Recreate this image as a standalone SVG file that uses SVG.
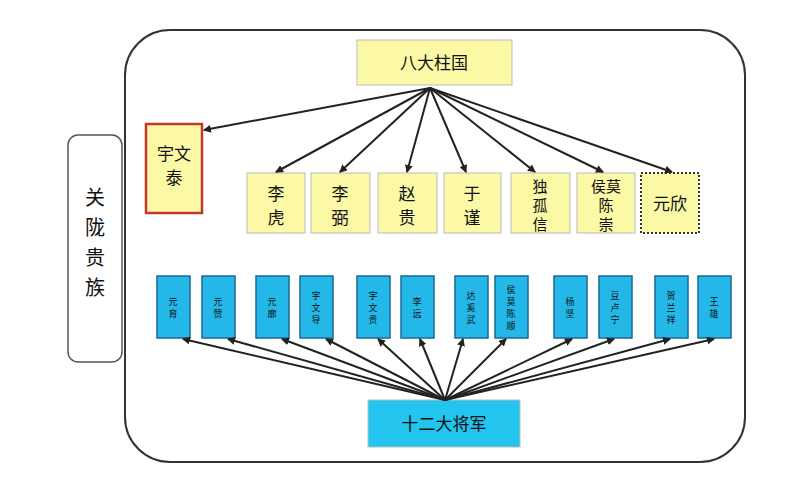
<svg xmlns="http://www.w3.org/2000/svg" width="787" height="479" viewBox="0 0 787 479">
<style>
text{font-family:"Noto Sans CJK SC","Noto Sans",sans-serif;fill:#111;text-anchor:middle}
.y{fill:#fbf8a6;stroke:#bbb;stroke-width:1}
.b{fill:#23b8e8;stroke:#1a6a9a;stroke-width:1.5}
.t{font-size:17px}
.m{font-size:15px}
.s{font-size:9px}
#c line{stroke:#222;stroke-width:2;marker-end:url(#a)}
</style>
<defs><marker id="a" markerWidth="8" markerHeight="8" refX="7" refY="4" orient="auto" markerUnits="userSpaceOnUse"><path d="M0,0L8,4L0,8z" fill="#222"/></marker></defs>
<rect x="0" y="0" width="787" height="479" fill="#fff"/>
<rect x="125" y="30" width="620" height="432" rx="45" fill="none" stroke="#333" stroke-width="2"/>
<g id="guanlong"><rect x="68" y="135" width="54" height="227" rx="10" fill="#fff" stroke="#555" stroke-width="1.5"/><text x="95" y="205" font-size="20">关</text><text x="95" y="235" font-size="20">陇</text><text x="95" y="265" font-size="20">贵</text><text x="95" y="295" font-size="20">族</text></g>
<g id="bazhu"><rect class="y" x="357" y="40" width="155" height="45"/><text class="t" x="434" y="69">八大柱国</text></g>
<g id="yuwentai"><rect x="146" y="124" width="56" height="89" fill="#fbf8a6" stroke="#c0392b" stroke-width="2.5"/><text class="t" x="174" y="160">宇文</text><text class="t" x="174" y="184">泰</text></g>
<g id="lihu"><rect class="y" x="247" y="173" width="58" height="60"/><text class="t" x="276" y="200">李</text><text class="t" x="276" y="224">虎</text></g>
<g id="libi"><rect class="y" x="311" y="173" width="59" height="60"/><text class="t" x="340" y="200">李</text><text class="t" x="340" y="224">弼</text></g>
<g id="zhaogui"><rect class="y" x="378" y="173" width="59" height="60"/><text class="t" x="407" y="200">赵</text><text class="t" x="407" y="224">贵</text></g>
<g id="yujin"><rect class="y" x="444" y="173" width="57" height="60"/><text class="t" x="472" y="200">于</text><text class="t" x="472" y="224">谨</text></g>
<g id="dugu"><rect class="y" x="511" y="173" width="59" height="60"/><text class="m" x="540" y="192">独</text><text class="m" x="540" y="211">孤</text><text class="m" x="540" y="230">信</text></g>
<g id="houmo"><rect class="y" x="577" y="173" width="58" height="60"/><text class="m" x="606" y="192">侯莫</text><text class="m" x="606" y="211">陈</text><text class="m" x="606" y="230">崇</text></g>
<g id="yuanxin"><rect x="641" y="173" width="58" height="60" fill="#fbf8a6" stroke="#333" stroke-width="2" stroke-dasharray="2,2"/><text class="t" x="670" y="210">元欣</text></g>
<g id="gens">
<rect class="b" x="157" y="276" width="33" height="62"/><text class="s" x="173" y="305">元</text><text class="s" x="173" y="317">育</text>
<rect class="b" x="202" y="276" width="33" height="62"/><text class="s" x="218" y="305">元</text><text class="s" x="218" y="317">赞</text>
<rect class="b" x="256" y="276" width="33" height="62"/><text class="s" x="272" y="305">元</text><text class="s" x="272" y="317">廓</text>
<rect class="b" x="300" y="276" width="33" height="62"/><text class="s" x="316" y="299">宇</text><text class="s" x="316" y="311">文</text><text class="s" x="316" y="323">导</text>
<rect class="b" x="357" y="276" width="33" height="62"/><text class="s" x="373" y="299">宇</text><text class="s" x="373" y="311">文</text><text class="s" x="373" y="323">贵</text>
<rect class="b" x="401" y="276" width="33" height="62"/><text class="s" x="417" y="305">李</text><text class="s" x="417" y="317">远</text>
<rect class="b" x="455" y="276" width="33" height="62"/><text class="s" x="471" y="299">达</text><text class="s" x="471" y="311">奚</text><text class="s" x="471" y="323">武</text>
<rect class="b" x="495" y="276" width="33" height="62"/><text class="s" x="511" y="293">侯</text><text class="s" x="511" y="305">莫</text><text class="s" x="511" y="317">陈</text><text class="s" x="511" y="329">顺</text>
<rect class="b" x="554" y="276" width="33" height="62"/><text class="s" x="570" y="305">杨</text><text class="s" x="570" y="317">坚</text>
<rect class="b" x="599" y="276" width="33" height="62"/><text class="s" x="615" y="299">豆</text><text class="s" x="615" y="311">卢</text><text class="s" x="615" y="323">宁</text>
<rect class="b" x="655" y="276" width="33" height="62"/><text class="s" x="671" y="299">贺</text><text class="s" x="671" y="311">兰</text><text class="s" x="671" y="323">祥</text>
<rect class="b" x="698" y="276" width="33" height="62"/><text class="s" x="714" y="305">王</text><text class="s" x="714" y="317">雄</text>
</g>
<g id="shier"><rect x="368" y="400" width="152" height="47" fill="#23c4ee" stroke="#bbb"/><text class="t" x="444" y="430">十二大将军</text></g>
<g id="c">
<line x1="430" y1="88" x2="204" y2="130"/>
<line x1="430" y1="88" x2="276" y2="172"/>
<line x1="430" y1="88" x2="340" y2="172"/>
<line x1="430" y1="88" x2="407" y2="172"/>
<line x1="430" y1="88" x2="466" y2="172"/>
<line x1="430" y1="88" x2="535" y2="172"/>
<line x1="430" y1="88" x2="603" y2="172"/>
<line x1="430" y1="88" x2="672" y2="172"/>
<line x1="445" y1="400" x2="183" y2="339"/>
<line x1="445" y1="400" x2="228" y2="339"/>
<line x1="445" y1="400" x2="282" y2="339"/>
<line x1="445" y1="400" x2="326" y2="339"/>
<line x1="445" y1="400" x2="378" y2="339"/>
<line x1="445" y1="400" x2="420" y2="339"/>
<line x1="445" y1="400" x2="463" y2="339"/>
<line x1="445" y1="400" x2="506" y2="339"/>
<line x1="445" y1="400" x2="572" y2="339"/>
<line x1="445" y1="400" x2="614" y2="339"/>
<line x1="445" y1="400" x2="670" y2="339"/>
<line x1="445" y1="400" x2="714" y2="339"/>
</g>
</svg>
